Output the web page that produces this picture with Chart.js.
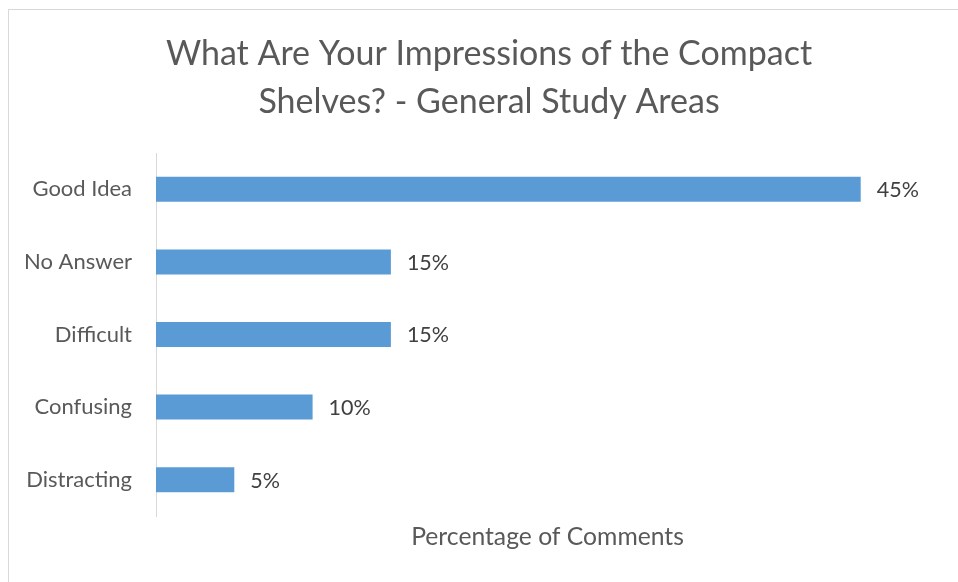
<!DOCTYPE html>
<html>
<head>
<meta charset="utf-8">
<script src="https://cdn.jsdelivr.net/npm/chart.js@4"></script>
<style>
  html, body { margin: 0; padding: 0; background: #fff; overflow: hidden; }
  #wrap { position: relative; width: 958px; height: 582px; }
  #frame {
    position: absolute; left: 8px; top: 9px; width: 1000px; height: 700px;
    border-left: 1px solid #d9d9d9; border-top: 1px solid #d9d9d9;
  }
  canvas { position: absolute; left: 0; top: 0; }
</style>
</head>
<body>
<div id="wrap">
  <div id="frame"></div>
  <canvas id="chart" width="958" height="582"></canvas>
</div>
<script>
const categories = ['Good Idea', 'No Answer', 'Difficult', 'Confusing', 'Distracting'];
const percentages = [45, 15, 15, 10, 5];
const titleLines = ['What Are Your Impressions of the Compact', 'Shelves? - General Study Areas'];
const axisTitle = 'Percentage of Comments';

const FONT = "Lato, 'Open Sans', sans-serif";
const TEXT = '#595959';

// two-line title, centred on the chart frame rather than the canvas
const chartTitle = {
  id: 'chartTitle',
  afterDraw(chart) {
    const ctx = chart.ctx;
    ctx.save();
    ctx.font = '34px ' + FONT;
    ctx.fillStyle = TEXT;
    ctx.textAlign = 'center';
    ctx.textBaseline = 'middle';
    titleLines.forEach((line, i) => {
      ctx.fillText(line, 489, 54 + i * 48);
    });
    ctx.restore();
  }
};

// draws "45%" etc. just past the end of each bar
const barLabels = {
  id: 'barLabels',
  afterDatasetsDraw(chart) {
    const ctx = chart.ctx;
    const meta = chart.getDatasetMeta(0);
    ctx.save();
    ctx.font = '21.5px ' + FONT;
    ctx.fillStyle = '#404040';
    ctx.textAlign = 'left';
    ctx.textBaseline = 'middle';
    meta.data.forEach((bar, i) => {
      ctx.fillText(percentages[i] + '%', bar.x + 16, bar.y + 1);
    });
    ctx.restore();
  }
};

new Chart(document.getElementById('chart'), {
  type: 'bar',
  data: {
    labels: categories,
    datasets: [{
      data: percentages,
      backgroundColor: '#5b9bd5',
      borderWidth: 0,
      categoryPercentage: 1,
      barPercentage: 0.345
    }]
  },
  options: {
    indexAxis: 'y',
    responsive: false,
    animation: false,
    layout: { padding: { left: 0, right: 19, top: 153, bottom: 0 } },
    plugins: {
      legend: { display: false },
      tooltip: { enabled: false },
      title: { display: false }
    },
    scales: {
      x: {
        min: 0,
        max: 50,
        grid: { display: false },
        border: { display: false },
        ticks: { display: false },
        title: {
          display: true,
          text: axisTitle,
          color: TEXT,
          font: { family: FONT, size: 24.7 },
          padding: { top: 0, bottom: 30 }
        },
        afterFit(scale) { scale.height = 66; }
      },
      y: {
        grid: { display: false },
        border: { display: true, color: '#d9d9d9', width: 1 },
        ticks: {
          color: TEXT,
          padding: 16,
          font: { family: FONT, size: 22 }
        },
        afterFit(scale) { scale.width = 156; }
      }
    }
  },
  plugins: [chartTitle, barLabels]
});
</script>
</body>
</html>
